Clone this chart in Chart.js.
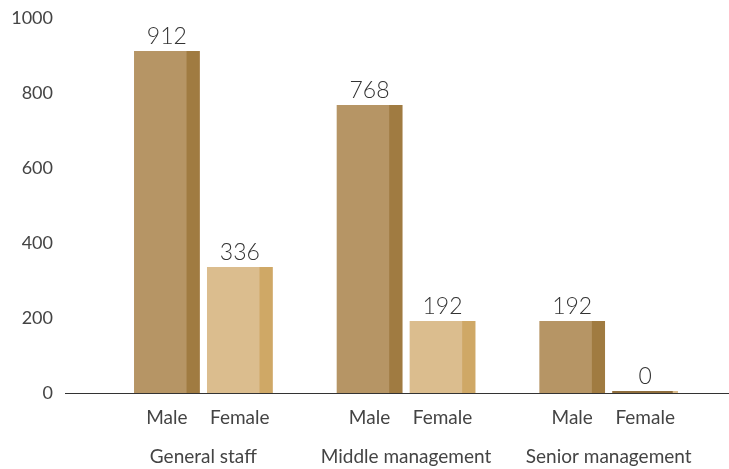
<!DOCTYPE html>
<html>
<head>
<meta charset="utf-8">
<script src="https://cdn.jsdelivr.net/npm/chart.js@4.4.1/dist/chart.umd.min.js"></script>
<style>
  html, body { margin: 0; padding: 0; background: #fff; }
  #wrap { width: 729px; height: 469px; }
</style>
</head>
<body>
<div id="wrap"><canvas id="c"></canvas></div>
<script>
// data
const groups = ['General staff', 'Middle management', 'Senior management'];
const seriesNames = ['Male', 'Female'];
const maleValues = [912, 768, 192];
const femaleValues = [336, 192, 0];
const yTicks = [0, 200, 400, 600, 800, 1000];

const FONT = "Lato, 'Noto Sans', sans-serif";
const faceColors = ['#b69565', '#dbbd8e'];
const sideColors = ['#a07b41', '#cfa866'];

// darker right strip + value labels + sub labels + baseline
const barDecor = {
  id: 'barDecor',
  afterDatasetsDraw(chart) {
    const ctx = chart.ctx;
    const yScale = chart.scales.y;
    const zeroY = yScale.getPixelForValue(0);

    chart.data.datasets.forEach((ds, di) => {
      const meta = chart.getDatasetMeta(di);
      meta.data.forEach((bar, i) => {
        const w = bar.width;
        const top = Math.min(bar.y, bar.base);
        const h = Math.abs(bar.base - bar.y);
        ctx.save();
        if (h <= 2) {
          // empty bar shows as a thin dark line
          ctx.fillStyle = '#8e6d3c';
          ctx.fillRect(bar.x - w / 2, top, w * 0.92, h);
        } else {
          ctx.fillStyle = sideColors[di];
          ctx.fillRect(bar.x + w / 2 - w * 0.2, top, w * 0.2, h);
        }

        // value label
        ctx.fillStyle = '#333';
        ctx.font = '300 23px ' + FONT;
        ctx.textAlign = 'center';
        ctx.textBaseline = 'bottom';
        ctx.fillText(String(ds.data[i]), bar.x, top - 3);

        // series label under the bar
        ctx.fillStyle = '#444';
        ctx.font = '19px ' + FONT;
        ctx.textBaseline = 'middle';
        ctx.fillText(seriesNames[di], bar.x, zeroY + 25);
        ctx.restore();
      });
    });

    // baseline
    ctx.save();
    ctx.strokeStyle = '#333';
    ctx.lineWidth = 1;
    ctx.beginPath();
    ctx.moveTo(65, Math.round(zeroY) + 0.5);
    ctx.lineTo(chart.width, Math.round(zeroY) + 0.5);
    ctx.stroke();
    ctx.restore();
  }
};

new Chart(document.getElementById('c'), {
  type: 'bar',
  data: {
    labels: groups,
    datasets: [
      { label: seriesNames[0], data: maleValues, backgroundColor: faceColors[0] },
      { label: seriesNames[1], data: femaleValues, backgroundColor: faceColors[1] },
    ],
  },
  options: {
    responsive: true,
    maintainAspectRatio: false,
    animation: false,
    devicePixelRatio: 1,
    layout: { padding: { top: 18, right: 19, bottom: 0, left: 0 } },
    datasets: {
      bar: {
        categoryPercentage: 0.72,
        barPercentage: 0.9,
        minBarLength: 2,
        borderWidth: 0,
      },
    },
    scales: {
      x: {
        afterFit(scale) {
          scale.height = 76;
          scale.paddingLeft = 0; scale.paddingRight = 0;
          scale.paddingTop = 0; scale.paddingBottom = 0;
        },
        grid: { display: false, drawTicks: false },
        border: { display: false },
        ticks: {
          padding: 52,
          maxRotation: 0,
          autoSkip: false,
          color: '#444',
          font: { family: FONT, size: 19 },
        },
      },
      y: {
        min: 0,
        max: 1000,
        afterFit(scale) {
          scale.width = 102;
          scale.paddingLeft = 0; scale.paddingRight = 0;
          scale.paddingTop = 0; scale.paddingBottom = 0;
        },
        afterBuildTicks(scale) { scale.ticks = yTicks.map(v => ({ value: v })); },
        grid: { display: false, drawTicks: false },
        border: { display: false },
        ticks: {
          padding: 49,
          color: '#444',
          font: { family: FONT, size: 18 },
          callback: v => String(v),
        },
      },
    },
    plugins: {
      legend: { display: false },
      tooltip: { enabled: false },
    },
  },
  plugins: [barDecor],
});
</script>
</body>
</html>
